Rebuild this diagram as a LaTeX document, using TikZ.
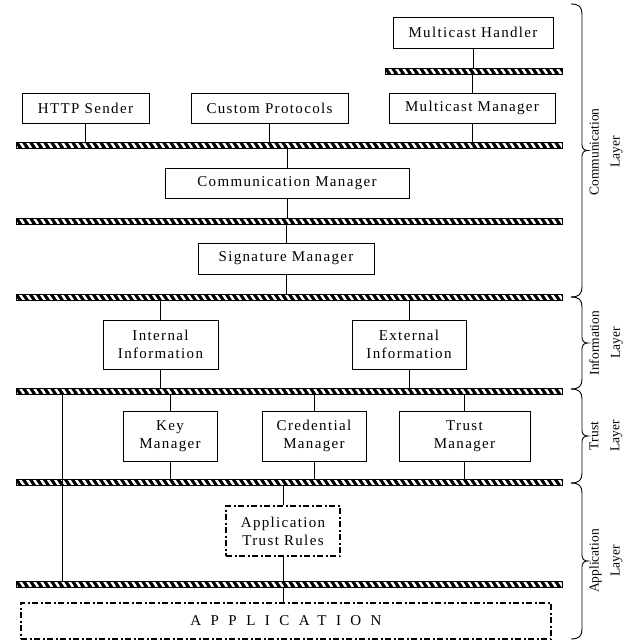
\documentclass[tikz,border=0pt]{standalone}
\usepackage{fontspec}
\setmainfont{Liberation Serif}
\newfontfamily\boxfont[LetterSpace=9]{Liberation Serif}
\newfontfamily\appfont[LetterSpace=63]{Liberation Serif}
\usetikzlibrary{calc}
\tikzset{
  box/.style={draw, line width=1pt, inner sep=0pt, align=center,
    font={\boxfont\fontsize{15}{18}\selectfont}},
  dbox/.style={box, line width=1.3pt, dash pattern=on 6pt off 2.5pt on 2pt off 2.5pt},
  bus/.style={draw=black, line width=0.9pt, fill=black, inner sep=0pt, minimum height=6pt,
    path picture={\foreach \i in {0,...,90}{\draw[white,line width=2.4pt]
      ([xshift=\i*7pt-3pt]path picture bounding box.north west) -- ++(4pt,-6pt);}}},
  link/.style={line width=0.9pt},
  lab/.style={rotate=90, align=center, inner sep=0pt,
    font={\fontsize{13.5}{21}\selectfont}},
}
\newcommand\layerbrace[2]{%
  \pgfmathsetmacro\bm{(#1+#2)/2}%
  \draw[line width=0.9pt] (571,#1) .. controls (579,#1) and (582,#1+3) .. (582,#1+10)
    -- (582,\bm-6) .. controls (582,\bm-2) and (584,\bm) .. (588,\bm)
    .. controls (584,\bm) and (582,\bm+2) .. (582,\bm+6)
    -- (582,#2-10) .. controls (582,#2-3) and (579,#2) .. (571,#2);}
\begin{document}
\begin{tikzpicture}[x=1pt,y=-1pt]
\useasboundingbox (0,0) rectangle (632,643);
% boxes
\node[box, minimum width=160pt, minimum height=31pt] (mh) at (473,32.5) {Multicast Handler};
\node[box, minimum width=166pt, minimum height=30pt] (mm) at (472,108) {Multicast Manager};
\node[box, minimum width=127pt, minimum height=30pt] (http) at (85.5,108) {HTTP Sender};
\node[box, minimum width=157pt, minimum height=30pt] (cp) at (269.5,108) {Custom Protocols};
\node[box, minimum width=244pt, minimum height=30pt] (cm) at (287,183) {Communication Manager};
\node[box, minimum width=176pt, minimum height=31pt] (sm) at (286,258.5) {Signature Manager};
\node[box, minimum width=115pt, minimum height=49pt] (ii) at (160.5,344.5) {Internal\\Information};
\node[box, minimum width=114pt, minimum height=49pt] (ei) at (409,344.5) {External\\Information};
\node[box, minimum width=94pt, minimum height=50pt] (km) at (170,436) {Key\\Manager};
\node[box, minimum width=104pt, minimum height=50pt] (crm) at (314,436) {Credential\\Manager};
\node[box, minimum width=131pt, minimum height=50pt] (tm) at (464.5,436) {Trust\\Manager};
\node[dbox, minimum width=114pt, minimum height=50pt] (atr) at (283,531) {Application\\Trust Rules};
\node[dbox, minimum width=530pt, minimum height=36pt, font={\appfont\fontsize{15}{18}\selectfont}] (app) at (286,621) {APPLICATION};
% buses
\node[bus, minimum width=177pt] (b0) at (473.5,71) {};
\node[bus, minimum width=546pt] (b1) at (289,145) {};
\node[bus, minimum width=546pt] (b2) at (289,221) {};
\node[bus, minimum width=546pt] (b3) at (289,297.5) {};
\node[bus, minimum width=546pt] (b4) at (289,391) {};
\node[bus, minimum width=546pt] (b5) at (289,482.5) {};
\node[bus, minimum width=546pt] (b6) at (289,584) {};
% connectors
\draw[link] (mh.south) -- (mh.south |- b0.north);
\draw[link] (mm.north |- b0.south) -- (mm.north);
\draw[link] (mm.south) -- (mm.south |- b1.north);
\draw[link] (http.south) -- (http.south |- b1.north);
\draw[link] (cp.south) -- (cp.south |- b1.north);
\draw[link] (cm.north |- b1.south) -- (cm.north);
\draw[link] (cm.south) -- (cm.south |- b2.north);
\draw[link] (sm.north |- b2.south) -- (sm.north);
\draw[link] (sm.south) -- (sm.south |- b3.north);
\draw[link] (ii.north |- b3.south) -- (ii.north);
\draw[link] (ii.south) -- (ii.south |- b4.north);
\draw[link] (ei.north |- b3.south) -- (ei.north);
\draw[link] (ei.south) -- (ei.south |- b4.north);
\draw[link] (km.north |- b4.south) -- (km.north);
\draw[link] (km.south) -- (km.south |- b5.north);
\draw[link] (crm.north |- b4.south) -- (crm.north);
\draw[link] (crm.south) -- (crm.south |- b5.north);
\draw[link] (tm.north |- b4.south) -- (tm.north);
\draw[link] (tm.south) -- (tm.south |- b5.north);
\draw[link] (atr.north |- b5.south) -- (atr.north);
\draw[link] (atr.south) -- (atr.south |- b6.north);
\draw[link] (atr.south |- b6.south) -- (atr.south |- app.north);
\coordinate (lx) at (62,0);
\draw[link] (lx |- b4.south) -- (lx |- b6.north);
% braces and labels
\layerbrace{4}{297}
\layerbrace{297}{389}
\layerbrace{389}{483}
\layerbrace{483}{639}
\node[lab] (lcomm) at (606,152) {Communication\\Layer};
\node[lab] (linfo) at (606,343) {Information\\Layer};
\node[lab] (ltrust) at (606,436) {Trust\\Layer};
\node[lab] (lapp) at (606,561) {Application\\Layer};
\end{tikzpicture}
\end{document}
